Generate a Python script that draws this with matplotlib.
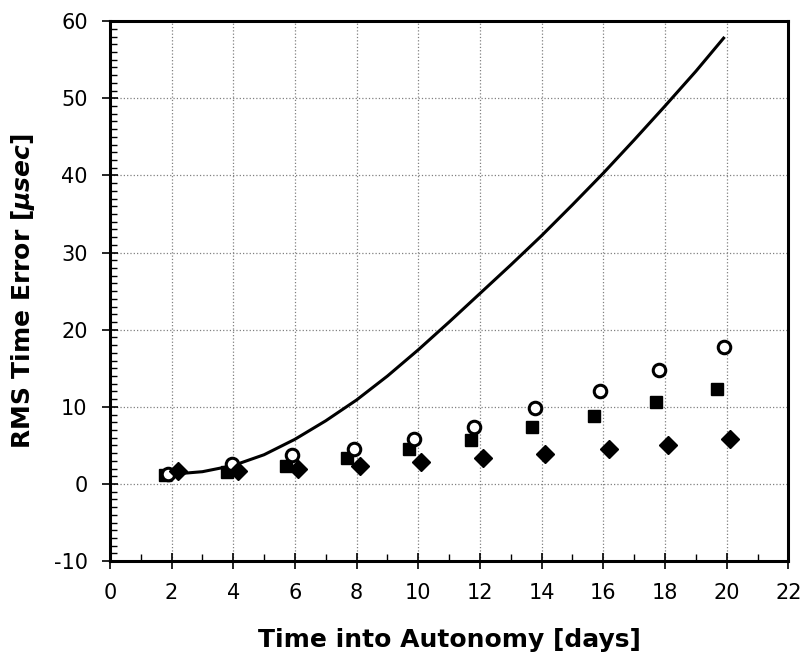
import matplotlib.pyplot as plt
from matplotlib.ticker import MultipleLocator

plt.rcParams['font.family'] = ['DejaVu Sans']
plt.rcParams['axes.unicode_minus'] = False
plt.rcParams['mathtext.fontset'] = 'dejavusans'

# curve
curve_days = [1.8, 3.0, 4.0, 5.0, 6.0, 7.0, 8.0, 9.0, 10.0, 11.0, 12.0, 13.0,
              14.0, 15.0, 16.0, 17.0, 18.0, 19.0, 19.9]
curve_err = [1.2, 1.6, 2.4, 3.8, 5.8, 8.2, 10.9, 14.0, 17.4, 21.0, 24.7, 28.4,
             32.2, 36.2, 40.3, 44.6, 49.0, 53.5, 57.8]

circ_days = [1.9, 3.95, 5.9, 7.9, 9.87, 11.8, 13.8, 15.9, 17.8, 19.9]
circ_err = [1.3, 2.6, 3.8, 4.5, 5.8, 7.4, 9.8, 12.1, 14.8, 17.8]

sq_days = [1.8, 3.8, 5.7, 7.7, 9.7, 11.7, 13.7, 15.7, 17.7, 19.7]
sq_err = [1.2, 1.6, 2.3, 3.4, 4.6, 5.7, 7.4, 8.8, 10.6, 12.3]

dia_days = [2.2, 4.15, 6.1, 8.1, 10.1, 12.1, 14.1, 16.2, 18.1, 20.1]
dia_err = [1.7, 1.7, 1.9, 2.4, 2.8, 3.4, 3.9, 4.6, 5.0, 5.8]

fig = plt.figure(figsize=(8.02, 6.61), dpi=100)
ax = fig.add_axes([0.137, 0.151, 0.846, 0.817])

ax.plot(curve_days, curve_err, color='black', lw=2.2, zorder=3)
ax.plot(sq_days, sq_err, 's', color='black', ms=9, zorder=4)
ax.plot(circ_days, circ_err, 'o', mfc='white', mec='black', mew=2.2, ms=9, zorder=4)
ax.plot(dia_days, dia_err, 'D', color='black', ms=9, zorder=4)

ax.set_xlim(0, 22)
ax.set_ylim(-10, 60)
ax.xaxis.set_major_locator(MultipleLocator(2))
ax.xaxis.set_minor_locator(MultipleLocator(1))
ax.yaxis.set_major_locator(MultipleLocator(10))
ax.yaxis.set_minor_locator(MultipleLocator(1))

ax.grid(True, which='major', ls=':', lw=0.9, color='#808080')
ax.tick_params(axis='x', which='major', direction='inout', length=12, width=1.2,
               labelsize=15, pad=10)
ax.tick_params(axis='x', which='minor', direction='in', length=5, width=1)
ax.tick_params(axis='y', which='major', direction='inout', length=12, width=1.2,
               labelsize=15, pad=10)
ax.tick_params(axis='y', which='minor', direction='in', length=5, width=1)

for side in ['left', 'bottom', 'top', 'right']:
    ax.spines[side].set_linewidth(2.2)

ax.set_xlabel('Time into Autonomy [days]', fontsize=18, fontweight='bold', labelpad=18)
ax.set_ylabel(r'RMS Time Error [$\mathbfit{\mu sec}$]', fontsize=18, fontweight='bold', labelpad=12)

fig.savefig('out.png', dpi=100)
